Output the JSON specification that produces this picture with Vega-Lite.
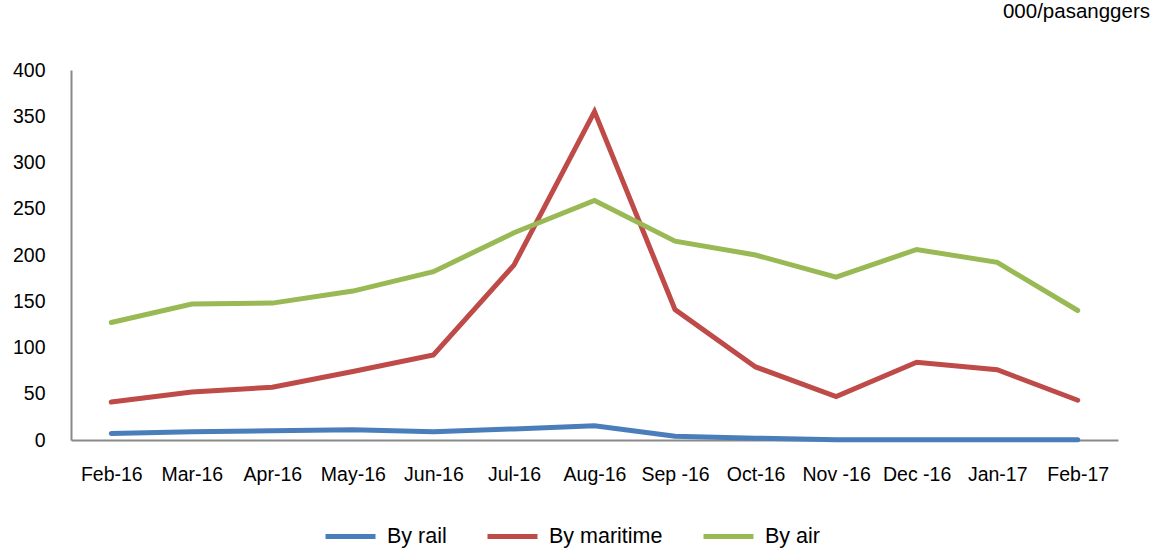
{
  "$schema": "https://vega.github.io/schema/vega-lite/v6.json",
  "autosize": {"type": "none"},
  "width": 1047,
  "height": 370,
  "padding": {"left": 71, "top": 70, "right": 39, "bottom": 110},
  "background": "white",
  "config": {
    "font": "Liberation Sans",
    "view": {"stroke": null},
    "axis": {"grid": false, "ticks": false, "domainColor": "#898989", "domainWidth": 2, "labelColor": "#000000", "labelFont": "Liberation Sans"}
  },
  "title": {
    "text": "000/pasanggers",
    "anchor": "end",
    "orient": "top",
    "frame": "group",
    "fontSize": 20.5,
    "fontWeight": "normal",
    "font": "Liberation Sans",
    "color": "#000000",
    "offset": 38,
    "dx": 32
  },
  "data": {
    "values": [
      {"month": "Feb-16", "mode": "By rail", "value": 7},
      {"month": "Mar-16", "mode": "By rail", "value": 9},
      {"month": "Apr-16", "mode": "By rail", "value": 10},
      {"month": "May-16", "mode": "By rail", "value": 11},
      {"month": "Jun-16", "mode": "By rail", "value": 9},
      {"month": "Jul-16", "mode": "By rail", "value": 12},
      {"month": "Aug-16", "mode": "By rail", "value": 15.5},
      {"month": "Sep -16", "mode": "By rail", "value": 4},
      {"month": "Oct-16", "mode": "By rail", "value": 2},
      {"month": "Nov -16", "mode": "By rail", "value": 0.3},
      {"month": "Dec -16", "mode": "By rail", "value": 0.3},
      {"month": "Jan-17", "mode": "By rail", "value": 0.3},
      {"month": "Feb-17", "mode": "By rail", "value": 0.3},
      {"month": "Feb-16", "mode": "By maritime", "value": 41},
      {"month": "Mar-16", "mode": "By maritime", "value": 52},
      {"month": "Apr-16", "mode": "By maritime", "value": 57},
      {"month": "May-16", "mode": "By maritime", "value": 74},
      {"month": "Jun-16", "mode": "By maritime", "value": 92},
      {"month": "Jul-16", "mode": "By maritime", "value": 189},
      {"month": "Aug-16", "mode": "By maritime", "value": 355},
      {"month": "Sep -16", "mode": "By maritime", "value": 141},
      {"month": "Oct-16", "mode": "By maritime", "value": 79},
      {"month": "Nov -16", "mode": "By maritime", "value": 47},
      {"month": "Dec -16", "mode": "By maritime", "value": 84},
      {"month": "Jan-17", "mode": "By maritime", "value": 76},
      {"month": "Feb-17", "mode": "By maritime", "value": 43},
      {"month": "Feb-16", "mode": "By air", "value": 127},
      {"month": "Mar-16", "mode": "By air", "value": 147},
      {"month": "Apr-16", "mode": "By air", "value": 148},
      {"month": "May-16", "mode": "By air", "value": 161},
      {"month": "Jun-16", "mode": "By air", "value": 182},
      {"month": "Jul-16", "mode": "By air", "value": 224},
      {"month": "Aug-16", "mode": "By air", "value": 259},
      {"month": "Sep -16", "mode": "By air", "value": 215},
      {"month": "Oct-16", "mode": "By air", "value": 200},
      {"month": "Nov -16", "mode": "By air", "value": 176},
      {"month": "Dec -16", "mode": "By air", "value": 206},
      {"month": "Jan-17", "mode": "By air", "value": 192},
      {"month": "Feb-17", "mode": "By air", "value": 140}
    ]
  },
  "mark": {"type": "line", "strokeWidth": 5, "strokeCap": "round", "strokeJoin": "miter"},
  "encoding": {
    "x": {
      "field": "month",
      "type": "nominal",
      "sort": null,
      "title": null,
      "axis": {"labelAngle": 0, "labelFontSize": 19.5, "labelPadding": 25, "domainWidth": 2}
    },
    "y": {
      "field": "value",
      "type": "quantitative",
      "title": null,
      "scale": {"domain": [0, 400], "nice": false},
      "axis": {"values": [0, 50, 100, 150, 200, 250, 300, 350, 400], "labelFontSize": 19.5, "labelPadding": 26}
    },
    "color": {
      "field": "mode",
      "type": "nominal",
      "scale": {"domain": ["By rail", "By maritime", "By air"], "range": ["#4a7ebb", "#be4b48", "#98b954"]},
      "legend": {
        "title": null,
        "orient": "none",
        "direction": "horizontal",
        "legendX": 252,
        "legendY": 439,
        "symbolType": "stroke",
        "symbolSize": 2500,
        "symbolStrokeWidth": 5,
        "labelFontSize": 21.5,
        "labelColor": "#000000",
        "labelOffset": 9,
        "columnPadding": 30
      }
    }
  }
}
